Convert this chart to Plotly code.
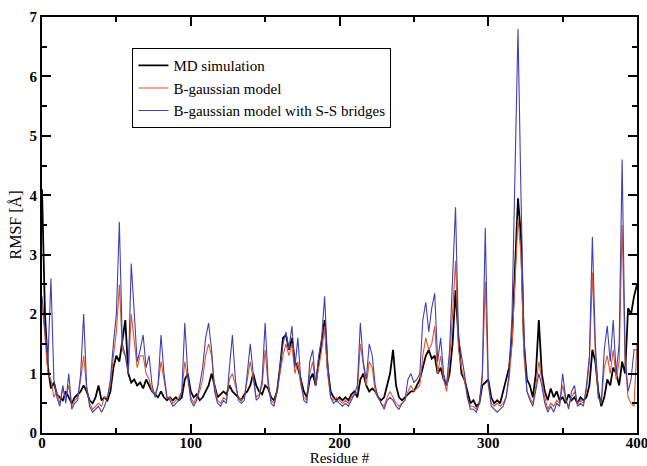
import plotly.graph_objects as go

residues = list(range(0, 401, 2))

md_sim = [4.1, 2.0, 1.1, 0.75, 0.85, 0.65, 0.6, 0.55, 0.7, 0.6,
          0.5, 0.6, 0.65, 0.7, 0.8, 0.7, 0.55, 0.5, 0.6, 0.8,
          0.55, 0.6, 0.55, 0.7, 1.1, 1.3, 1.2, 1.6, 1.9, 1.0,
          0.85, 0.9, 0.8, 0.85, 0.75, 0.9, 0.8, 0.7, 0.65, 0.6,
          0.7, 0.6, 0.55, 0.6, 0.55, 0.6, 0.55, 0.6, 0.9, 1.0,
          0.7, 0.6, 0.65, 0.55, 0.6, 0.7, 0.8, 1.0, 0.8, 0.6,
          0.65, 0.7, 0.65, 0.8, 0.7, 0.65, 0.6, 0.55, 0.65, 0.7,
          0.8, 1.0, 0.8, 0.7, 0.65, 0.8, 0.75, 0.6, 0.55, 0.7,
          1.1, 1.6, 1.65, 1.4, 1.6, 1.2, 1.1, 0.9, 0.7, 0.6,
          0.9, 1.0, 0.8, 1.2, 1.5, 1.9, 1.1, 0.7, 0.6, 0.55,
          0.6, 0.55, 0.6, 0.55, 0.65, 0.7, 0.6, 0.9, 1.0, 0.8,
          0.7, 0.75, 0.7, 0.6, 0.55, 0.6, 0.8, 1.0, 1.4, 0.8,
          0.6, 0.55, 0.6, 0.65, 0.7, 0.7, 0.8, 0.9, 1.1, 1.3,
          1.4, 1.25, 1.3, 1.0, 1.1, 0.9, 0.8, 1.0, 1.5, 2.4,
          1.6, 1.0, 0.9, 0.7, 0.5, 0.55, 0.45, 0.5, 0.8, 0.85,
          0.9, 0.6, 0.5, 0.55, 0.5, 0.7, 0.9, 1.1, 1.6, 2.8,
          3.95, 3.3, 1.5, 0.9, 0.8, 0.6, 1.0, 1.9, 1.0, 0.7,
          0.55, 0.75, 0.6, 0.7, 0.55, 0.6, 0.5, 0.65, 0.55, 0.6,
          0.5, 0.6, 0.55, 0.6, 0.8, 1.4, 1.2, 0.7, 0.45, 0.6,
          0.9, 0.8, 1.1, 1.0, 0.8, 1.2, 1.0, 2.1, 2.0, 2.3,
          2.5]

b_gauss = [2.2, 1.6, 1.0, 0.9, 0.6, 0.7, 0.5, 0.75, 0.6, 0.8,
           0.45, 0.55, 0.6, 0.9, 1.3, 0.75, 0.5, 0.4, 0.45, 0.5,
           0.45, 0.6, 0.6, 0.8, 1.3, 1.7, 2.5, 1.4, 1.3, 1.0,
           2.0, 1.5, 1.1, 1.3, 1.3, 1.0, 0.9, 0.7, 0.65, 0.8,
           1.2, 0.9, 0.6, 0.6, 0.5, 0.55, 0.6, 0.7, 1.2, 0.9,
           0.6, 0.5, 0.6, 0.7, 0.9, 1.3, 1.5, 1.3, 0.8, 0.55,
           0.5, 0.6, 0.55, 0.9, 1.0, 0.8, 0.6, 0.55, 0.6, 0.9,
           1.2, 0.9, 0.6, 0.65, 0.8, 1.4, 0.8, 0.55, 0.5, 0.7,
           1.0, 1.3, 1.5, 1.3, 1.5, 1.0, 1.2, 0.8, 0.6, 0.55,
           1.0, 1.2, 0.8, 1.1, 1.4, 1.8, 1.0, 0.6, 0.55, 0.6,
           0.55, 0.5, 0.55, 0.5, 0.6, 0.65, 0.7, 1.5, 1.1, 0.8,
           1.2, 1.1, 0.7, 0.6, 0.5, 0.45, 0.6, 0.7, 0.6, 0.5,
           0.45, 0.5, 0.55, 0.7, 0.8, 0.7, 0.75, 0.8, 1.3, 1.6,
           1.4, 1.5, 1.8, 1.0, 1.3, 0.9, 0.7, 1.2, 2.0, 2.9,
           1.4, 1.1, 0.9, 0.6, 0.45, 0.45, 0.4, 0.5, 0.9, 2.55,
           0.8, 0.5, 0.45, 0.5, 0.45, 0.5, 0.6, 0.9, 1.5, 2.7,
           3.6, 3.0, 1.3, 0.7, 0.6, 0.5, 0.8, 1.2, 0.9, 0.6,
           0.4, 0.5, 0.45, 0.55, 0.5, 0.8, 0.55, 0.45, 0.6, 0.7,
           0.5, 0.55, 0.5, 0.7, 1.2, 2.7, 1.3, 0.6, 0.5, 1.1,
           1.3, 1.0, 1.4, 0.9, 1.2, 3.5, 1.2, 0.6, 0.5, 0.45,
           1.5]

b_gauss_ss = [2.3, 1.8, 1.2, 2.6, 0.9, 0.6, 0.45, 0.8, 0.5, 1.0,
              0.4, 0.5, 0.55, 1.0, 2.0, 0.8, 0.45, 0.35, 0.4, 0.45,
              0.35, 0.45, 0.6, 0.9, 1.5, 2.0, 3.55, 1.5, 1.3, 1.0,
              2.85, 2.0, 1.2, 1.4, 1.65, 1.1, 1.3, 0.8, 0.6, 0.8,
              1.65, 1.0, 0.6, 0.55, 0.45, 0.5, 0.55, 0.7, 1.85, 1.0,
              0.55, 0.45, 0.55, 0.8, 1.1, 1.6, 1.85, 1.4, 0.7, 0.5,
              0.45, 0.55, 0.5, 1.1, 1.65, 0.9, 0.55, 0.5, 0.55, 1.0,
              1.5, 1.0, 0.55, 0.6, 0.9, 1.85, 0.9, 0.5, 0.45, 0.7,
              1.1, 1.5, 1.7, 1.4, 1.8, 1.1, 1.6, 0.9, 0.55, 0.5,
              1.2, 1.4, 0.8, 1.3, 1.6, 2.3, 1.2, 0.6, 0.5, 0.55,
              0.5, 0.45, 0.5, 0.45, 0.55, 0.65, 0.8, 1.85, 1.2, 0.9,
              1.5, 1.3, 0.8, 0.6, 0.5, 0.4, 0.55, 0.6, 0.55, 0.45,
              0.4, 0.5, 0.55, 0.9, 1.0, 0.85, 0.9, 1.0, 1.9, 2.2,
              1.7, 2.1, 2.35, 1.2, 1.6, 1.0, 0.8, 1.4, 2.6, 3.8,
              1.6, 1.3, 1.0, 0.6, 0.4, 0.4, 0.35, 0.5, 1.0, 3.45,
              0.9, 0.45, 0.4, 0.35, 0.4, 0.45, 0.6, 1.0, 2.0, 4.2,
              6.8, 4.0, 1.6, 0.7, 0.55, 0.45, 0.7, 1.0, 0.8, 0.5,
              0.35, 0.45, 0.35, 0.5, 0.45, 1.0, 0.6, 0.4, 0.7, 0.8,
              0.45, 0.5, 0.45, 0.8, 1.3, 3.3, 1.5, 0.6, 0.5, 1.4,
              1.8, 1.2, 1.9, 1.0, 1.5, 4.6, 1.3, 0.7, 0.9, 1.4,
              1.4]

x_ticks = [0, 100, 200, 300, 400]
y_ticks = [0, 1, 2, 3, 4, 5, 6, 7]

SERIF = "Liberation Serif, Times New Roman, serif"

fig = go.Figure()
fig.add_trace(go.Scatter(x=residues, y=md_sim, mode="lines", name="MD simulation",
                         line=dict(color="#000000", width=1.8)))
fig.add_trace(go.Scatter(x=residues, y=b_gauss, mode="lines", name="B-gaussian model",
                         line=dict(color="#e0562a", width=1.1)))
fig.add_trace(go.Scatter(x=residues, y=b_gauss_ss, mode="lines",
                         name="B-gaussian model with S-S bridges",
                         line=dict(color="#4040b0", width=1.1)))

axis_common = dict(
    showline=True, linecolor="black", linewidth=2, mirror="ticks",
    ticks="inside", ticklen=9, tickwidth=2, tickcolor="black",
    showgrid=False, zeroline=False, automargin=False,
    ticklabeloverflow="allow",
    tickfont=dict(family=SERIF, size=15, color="black", weight="bold"),
)

fig.update_xaxes(range=[0, 400], tickvals=x_ticks,
                 minor=dict(ticks="inside", ticklen=5, tickwidth=2, dtick=50, tickcolor="black"),
                 ticklabelstandoff=-5,
                 title=dict(text="Residue #", font=dict(family=SERIF, size=15, color="black"),
                            standoff=0),
                 **axis_common)
fig.update_yaxes(range=[0, 7], tickvals=y_ticks,
                 minor=dict(ticks="inside", ticklen=5, tickwidth=2, dtick=0.5, tickcolor="black"),
                 title=dict(text="RMSF [Å]", font=dict(family=SERIF, size=16, color="black"),
                            standoff=4),
                 **axis_common)

fig.update_layout(
    width=647, height=466,
    margin=dict(l=42, r=10, t=17, b=33),
    paper_bgcolor="white", plot_bgcolor="white",
    showlegend=True,
    legend=dict(x=0.152, y=0.925, xanchor="left", yanchor="top",
                bgcolor="white", bordercolor="black", borderwidth=1,
                font=dict(family=SERIF, size=15, color="black"),
                tracegroupgap=0, itemwidth=30),
)

fig.write_html("out.html")
